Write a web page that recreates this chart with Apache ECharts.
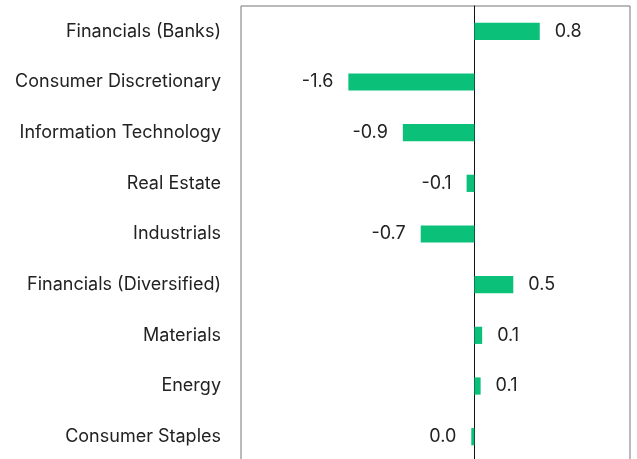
<!DOCTYPE html>
<html>
<head>
<meta charset="utf-8">
<script src="https://cdn.jsdelivr.net/npm/echarts@6/dist/echarts.min.js"></script>
<style>
  html, body { margin: 0; padding: 0; background: #fff; }
  #chart { width: 637px; height: 459px; }
</style>
</head>
<body>
<div id="chart"></div>
<script>
// sectors, top to bottom
const sectors = [
  'Financials (Banks)',
  'Consumer Discretionary',
  'Information Technology',
  'Real Estate',
  'Industrials',
  'Financials (Diversified)',
  'Materials',
  'Energy',
  'Consumer Staples'
]
const contribution = [0.84, -1.62, -0.92, -0.1, -0.69, 0.5, 0.1, 0.08, -0.04]

const fmt = (v) => {
  let s = v.toFixed(1)
  if (s === '-0.0') s = '0.0'
  return s
}

const chart = echarts.init(document.getElementById('chart'))
chart.setOption({
  animation: false,
  textStyle: { fontFamily: 'Inter' },
  grid: {
    left: 241, right: 7, top: 6, height: 456,
    outerBoundsMode: 'none',
    show: true, borderColor: '#777', borderWidth: 1, backgroundColor: 'transparent'
  },
  xAxis: {
    type: 'value', min: -3, max: 2,
    axisLabel: { show: false }, axisTick: { show: false },
    axisLine: { show: false }, splitLine: { show: false }
  },
  yAxis: {
    type: 'category', inverse: true, data: sectors,
    axisTick: { show: false },
    axisLine: { show: true, onZero: true, lineStyle: { color: '#111', width: 1 } },
    axisLabel: { color: '#222', fontSize: 18, margin: 20 }
  },
  series: [{
    type: 'bar',
    barWidth: '34%',
    itemStyle: { color: '#0bc17a' },
    label: {
      show: true,
      color: '#222',
      fontSize: 18,
      distance: 15,
      formatter: (p) => fmt(p.value)
    },
    // labels sit past the bar end: right for positive, left for negative
    data: contribution.map(v => ({
      value: v,
      label: { position: v >= 0 ? 'right' : 'left' }
    }))
  }]
})
</script>
</body>
</html>
